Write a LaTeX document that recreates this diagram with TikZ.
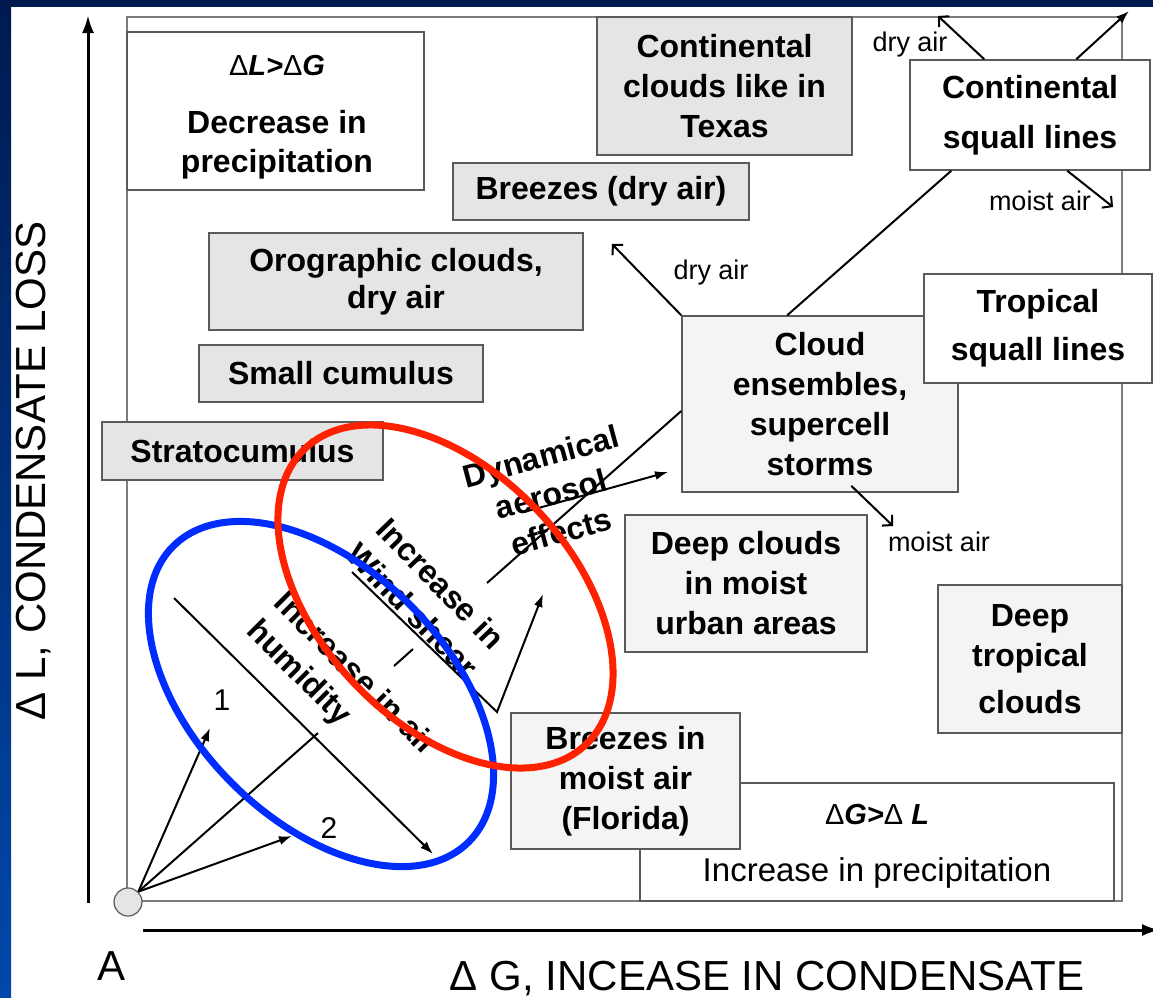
\documentclass[tikz,border=0pt]{standalone}
\usepackage{fontspec}
\setmainfont{Liberation Sans}
\usetikzlibrary{arrows.meta}
\definecolor{navy}{RGB}{0,26,80}
\definecolor{bandblue}{RGB}{0,72,170}
\definecolor{boxgray}{RGB}{229,229,229}
\definecolor{lightfill}{RGB}{244,244,244}
\definecolor{edgegray}{RGB}{90,90,90}
\definecolor{framegray}{RGB}{125,125,125}
\definecolor{ellblue}{RGB}{0,45,255}
\definecolor{ellred}{RGB}{255,34,0}
\begin{document}
\begin{tikzpicture}[x=1pt,y=-1pt,
  box/.style={draw=edgegray, line width=1.5pt, rectangle, inner sep=0pt, align=center, font=\fontsize{32}{40}\selectfont\bfseries},
  graybox/.style={box, fill=boxgray},
  whitebox/.style={box, fill=white},
  lightbox/.style={box, fill=lightfill},
  conn/.style={line width=2pt, black},
  arr/.style={conn, -{Latex[length=13pt,width=9pt]}},
  airarr/.style={conn, -{Straight Barb[length=7pt,width=15pt,line width=2pt]}},
  axis/.style={line width=3pt, black, -{Latex[length=18pt,width=12pt]}},
  airlabel/.style={font=\fontsize{27}{32}\selectfont, inner sep=0pt},
  rotlabel/.style={font=\fontsize{32}{39}\selectfont\bfseries, align=center, inner sep=0pt},
  axlabel/.style={font=\fontsize{42}{50}\selectfont, inner sep=0pt, anchor=base},
  numlabel/.style={font=\fontsize{30}{36}\selectfont, inner sep=0pt},
  deltalabel/.style={font=\fontsize{29}{34}\selectfont, inner sep=0pt},
  ell/.style={line width=7pt}
]
\useasboundingbox (0,0) rectangle (1153,997);
\fill[white] (0,0) rectangle (1153,997);
\fill[navy] (0,0) rectangle (1153,7);
\shade[top color=navy, bottom color=bandblue] (0,0) rectangle (11,997);

% frame
\draw[framegray, line width=1.5pt] (127,17) rectangle (1122,901);

% axes
\coordinate (yBot) at (88,903);
\coordinate (yTop) at (88,15);
\draw[axis] (yBot) -- (yTop);
\coordinate (xL) at (143,930);
\coordinate (xR) at (1160,930);
\draw[axis] (xL) -- (xR);
\node[axlabel] (xlab) at (767,990) {Δ G, INCEASE IN CONDENSATE};
\node[axlabel, rotate=90] (ylab) at (45,471) {Δ L, CONDENSATE LOSS};
\node[axlabel] (Alab) at (112,980) {A};

% boxes
\node[whitebox, minimum width=297pt, minimum height=158pt] (dLG) at (275.5,111) {};
\node[deltalabel] (dLGh) at (277,66) {Δ\textbf{\textit{L>}}Δ\textbf{\textit{G}}};
\node[font=\fontsize{32}{39}\selectfont\bfseries, align=center, inner sep=0pt] (dLGt) at (277,145) {Decrease in\\precipitation};

\node[graybox, minimum width=255pt, minimum height=138pt] (tex) at (724.5,86) {Continental\\clouds like in\\Texas};
\node[graybox, minimum width=296pt, minimum height=57pt] (brd) at (601,191.5) {Breezes (dry air)};
\node[whitebox, minimum width=240pt, minimum height=110pt] (csq) at (1030,115) {Continental\\[10pt]squall lines};
\node[graybox, minimum width=374pt, minimum height=97pt, font=\fontsize{32}{37}\selectfont\bfseries] (oro) at (396,281.5) {Orographic clouds,\\dry air};
\node[graybox, minimum width=284pt, minimum height=57pt] (scu) at (341,373.5) {Small cumulus};
\node[graybox, minimum width=281pt, minimum height=58pt] (stc) at (242.5,451) {Stratocumulus};
\node[lightbox, minimum width=276pt, minimum height=176pt] (ens) at (820,404) {Cloud\\ensembles,\\supercell\\storms};
\node[whitebox, minimum width=228pt, minimum height=109pt] (tsq) at (1038,328.5) {Tropical\\[8pt]squall lines};
\node[lightbox, minimum width=242pt, minimum height=137pt] (dcu) at (746,583.5) {Deep clouds\\in moist\\urban areas};
\node[lightbox, minimum width=184pt, minimum height=148pt] (dtr) at (1030,659) {Deep\\tropical\\[7pt]clouds};
\node[whitebox, minimum width=474pt, minimum height=118pt] (dGL) at (877,842) {};
\node[deltalabel] (dGLh) at (877,814) {Δ\textbf{\textit{G>}}Δ \textbf{\textit{L}}};
\node[font=\fontsize{33}{40}\selectfont, inner sep=0pt] (dGLt) at (877,873) {Increase in precipitation};
\node[lightbox, minimum width=229pt, minimum height=136pt] (bfl) at (625.5,781) {Breezes in\\moist air\\(Florida)};

% main diagonal through squall lines
\draw[conn] ([xshift=106pt]ens.north west) -- ([xshift=42pt]csq.south west);
\coordinate (tipA) at (1129,11);
\draw[arr] ([xshift=167pt]csq.north west) -- (tipA);

% air arrows
\coordinate (dry1) at (612,244);
\draw[airarr] (ens.north west) -- (dry1);
\coordinate (dry2) at (938,16);
\draw[airarr] ([xshift=75pt]csq.north west) -- (dry2);
\coordinate (moist1) at (1113,207);
\draw[airarr] ([xshift=158pt]csq.south west) -- (moist1);
\coordinate (moist2) at (893,526);
\draw[airarr] ([xshift=170pt,yshift=7pt]ens.south west) -- (moist2);
\node[airlabel] (lbl1) at (910,45) {dry air};
\node[airlabel] (lbl2) at (1040,201) {moist air};
\node[airlabel] (lbl3) at (711,273) {dry air};
\node[airlabel] (lbl4) at (939,542) {moist air};

% dynamical aerosol effects
\coordinate (dynS) at (487,583);
\draw[conn] (dynS) -- ([yshift=-7pt]ens.west);
\coordinate (dynA) at (524,512);
\coordinate (dynB) at (668,472);
\draw[arr] (dynA) -- (dynB);
\node[rotlabel, rotate=15] (dyn) at (551,494) {Dynamical\\aerosol\\effects};

% origin and vectors
\node[circle, draw=edgegray, fill=boxgray, minimum size=28pt, inner sep=0pt, line width=1.2pt] (A) at (128,902) {};
\coordinate (p1) at (210,728);
\coordinate (pm) at (318,733);
\coordinate (p2) at (292,836);
\draw[arr] (A.45) -- (p1);
\draw[conn] (A.45) -- (pm);
\draw[arr] (A.45) -- (p2);
\node[numlabel] (n1) at (222,700) {1};
\node[numlabel] (n2) at (329,828) {2};
\coordinate (dg1) at (174,598);
\coordinate (dg2) at (433,854);
\draw[arr] (dg1) -- (dg2);

% wind shear
\coordinate (v1) at (352,572);
\coordinate (v2) at (497,712);
\coordinate (v3) at (543,594);
\draw[arr] (v1) -- (v2) -- (v3);
\node[rotlabel, rotate=-46] (wind) at (427,597) {Increase in\\Wind shear};
\coordinate (sepA) at (394,666);
\coordinate (sepB) at (413,649);
\draw[conn] (sepA) -- (sepB);
\node[rotlabel, rotate=-45, align=left] (hum) at (341,689) {Increase in air\\humidity};

% ellipses
\draw[ell, ellblue, rotate around={-45:(321,694)}] (321,694) ellipse [x radius=209pt, y radius=126pt];
\draw[ell, ellred, rotate around={-46.5:(445.5,596.5)}] (445.5,596.5) ellipse [x radius=204pt, y radius=126pt];
\end{tikzpicture}
\end{document}
